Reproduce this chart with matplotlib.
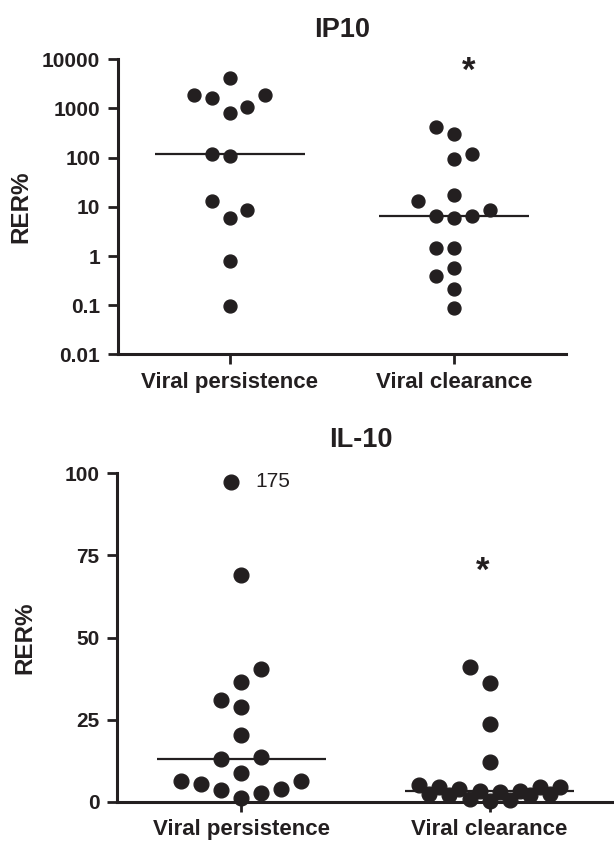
import matplotlib
matplotlib.use("Agg")
import matplotlib.pyplot as plt
import matplotlib.ticker as mticker
import numpy as np

groups = ["Viral persistence", "Viral clearance"]

# IP10 (RER%, log scale)
ip10_persist = [4200, 1840, 1650, 1840, 1050, 790, 117, 108, 13.2, 8.7, 5.8, 0.78, 0.097]
ip10_clear = [425, 295, 95, 117, 13.2, 17.2, 8.7, 6.6, 5.9, 6.6, 1.48, 1.48, 0.58, 0.39, 0.21, 0.087]
ip10_ticks = [0.01, 0.1, 1, 10, 100, 1000, 10000]
ip10_ticklabels = ["0.01", "0.1", "1", "10", "100", "1000", "10000"]

# IL-10 (RER%, linear scale, one value off the scale)
il10_persist = [175, 69, 40.3, 36.4, 31.0, 28.9, 20.2, 12.9, 13.5, 8.6, 6.2, 5.4, 3.6, 1.2, 2.7, 4.0, 6.2]
il10_clear = [41.1, 36.0, 23.7, 12.0, 5.1, 2.5, 4.4, 2.2, 4.0, 0.7, 3.3, 0.3, 2.9, 0.6, 3.3, 2.2, 4.4, 2.5, 4.4]
il10_ticks = [0, 25, 50, 75, 100]
il10_cap = 97.5

# horizontal slot of each dot in the scatter
ip10_persist_slot = [0, -2, -1, 2, 1, 0, -1, 0, -1, 1, 0, 0, 0]
ip10_clear_slot = [-1, 0, 0, 1, -2, 0, 2, -1, 0, 1, -1, 0, 0, -1, 0, 0]
il10_persist_slot = [-0.5, 0, 1, 0, -1, 0, 0, -1, 1, 0, -3, -2, -1, 0, 1, 2, 3]
il10_clear_slot = [-1, 0, 0, 0, -3.5, -3, -2.5, -2, -1.5, -1, -0.5, 0, 0.5, 1, 1.5, 2, 2.5, 3, 3.5]

INK = "#231f20"

plt.rcParams["font.family"] = ["Liberation Sans", "DejaVu Sans"]
plt.rcParams["font.weight"] = "bold"


def style_axes(ax, label_x):
	for s in ["top", "right"]:
		ax.spines[s].set_visible(False)
	for s in ["left", "bottom"]:
		ax.spines[s].set_linewidth(2.2)
		ax.spines[s].set_color(INK)
	ax.tick_params(axis="both", which="major", length=7.5, width=2.0, color=INK,
		labelsize=15, labelcolor=INK, pad=5)
	ax.tick_params(axis="x", labelsize=16)
	ax.tick_params(axis="both", which="minor", length=0)
	ax.set_xticks([0, 1])
	ax.set_xticklabels(groups, fontweight="bold")
	ax.set_xlim(-0.5, 1.5)
	ax.set_ylabel("RER%", fontsize=17.5, fontweight="bold", color=INK)
	ax.yaxis.set_label_coords(label_x, 0.5)


def draw_group(ax, i, vals, slots, step, half, msize):
	x = i + np.array(slots) * step
	ax.hlines(np.median(vals), i - half, i + half, color=INK, lw=1.6, zorder=2)
	ax.plot(x, vals, "o", ms=msize, color=INK, mec=INK, clip_on=False, zorder=3)


fig = plt.figure(figsize=(6.14, 8.41), dpi=100)

# top panel
ax1 = fig.add_axes([0.1914, 0.5785, 0.7305, 0.3513])
ax1.set_yscale("log")
ax1.set_ylim(0.01, 10000)
ax1.yaxis.set_major_locator(mticker.FixedLocator(ip10_ticks))
ax1.yaxis.set_minor_locator(mticker.NullLocator())
ax1.set_yticks(ip10_ticks)
ax1.set_yticklabels(ip10_ticklabels, fontweight="bold")
style_axes(ax1, -0.19)
draw_group(ax1, 0, ip10_persist, ip10_persist_slot, 0.0795, 0.335, 9.3)
draw_group(ax1, 1, ip10_clear, ip10_clear_slot, 0.0795, 0.335, 9.3)
ax1.set_title("IP10", fontsize=19.5, fontweight="bold", color=INK, pad=16)
ax1.text(1.064, 5500, "*", fontsize=25, fontweight="bold", color=INK, ha="center", va="center")

# bottom panel
ax2 = fig.add_axes([0.1901, 0.0467, 0.8099, 0.3905])
ax2.set_ylim(0, 100)
ax2.set_yticks(il10_ticks)
ax2.set_yticklabels([str(t) for t in il10_ticks], fontweight="bold")
style_axes(ax2, -0.162)
shown = np.minimum(il10_persist, il10_cap)
draw_group(ax2, 0, il10_persist, il10_persist_slot, 0.081, 0.34, 10.6)
# redraw the capped point at the top of the scale
ax2.lines[-1].set_ydata(shown)
draw_group(ax2, 1, il10_clear, il10_clear_slot, 0.081, 0.34, 10.6)
top_i = int(np.argmax(il10_persist))
ax2.text(0.059, shown[top_i], str(int(il10_persist[top_i])), fontsize=15, fontweight="normal",
	color=INK, ha="left", va="center")
ax2.set_title("IL-10", fontsize=19.5, fontweight="bold", color=INK, pad=19, x=0.49)
ax2.text(0.97, 70, "*", fontsize=25, fontweight="bold", color=INK, ha="center", va="center")

fig.savefig("out.png", dpi=100)
